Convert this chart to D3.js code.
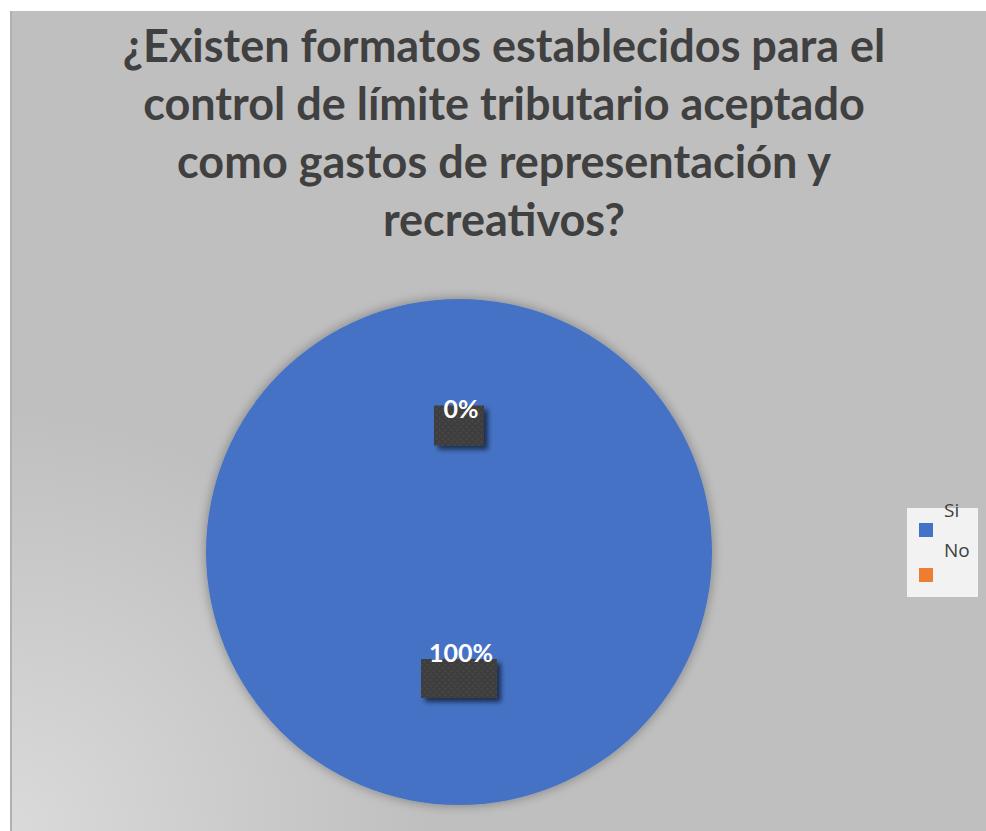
<!DOCTYPE html>
<html><head><meta charset="utf-8">
<script src="https://cdn.jsdelivr.net/npm/d3@7"></script>
<style>html,body{margin:0;padding:0;background:#fff;}svg{display:block;}</style>
</head><body>
<script>
const titleLines = ["¿Existen formatos establecidos para el","control de límite tributario aceptado","como gastos de representación y","recreativos?"];
const categories = ["Si","No"];
const values = [100, 0];
const colors = ["#4472c4","#ed7d31"];

const W = 986, H = 831;
const svg = d3.select("body").append("svg").attr("width", W).attr("height", H);
const defs = svg.append("defs");

const rg = defs.append("radialGradient").attr("id","bg").attr("gradientUnits","userSpaceOnUse")
  .attr("cx",10).attr("cy",831).attr("r",420);
rg.append("stop").attr("offset","0%").attr("stop-color","#dadada");
rg.append("stop").attr("offset","100%").attr("stop-color","#bfbfbf");

const f = defs.append("filter").attr("id","pieShadow").attr("x","-20%").attr("y","-20%").attr("width","140%").attr("height","140%");
f.append("feGaussianBlur").attr("in","SourceAlpha").attr("stdDeviation",6).attr("result","b");
f.append("feOffset").attr("in","b").attr("dx",0).attr("dy",0).attr("result","o");
f.append("feComponentTransfer").attr("in","o").attr("result","s").append("feFuncA").attr("type","linear").attr("slope",0.35);
const fm = f.append("feMerge"); fm.append("feMergeNode").attr("in","s"); fm.append("feMergeNode").attr("in","SourceGraphic");

const f2 = defs.append("filter").attr("id","boxShadow").attr("x","-30%").attr("y","-30%").attr("width","170%").attr("height","170%");
f2.append("feGaussianBlur").attr("in","SourceAlpha").attr("stdDeviation",2.5).attr("result","b");
f2.append("feOffset").attr("in","b").attr("dx",4).attr("dy",4).attr("result","o");
f2.append("feComponentTransfer").attr("in","o").attr("result","s").append("feFuncA").attr("type","linear").attr("slope",0.6);
const fm2 = f2.append("feMerge"); fm2.append("feMergeNode").attr("in","s"); fm2.append("feMergeNode").attr("in","SourceGraphic");

const pat = defs.append("pattern").attr("id","dots").attr("patternUnits","userSpaceOnUse").attr("width",6).attr("height",6);
pat.append("rect").attr("width",6).attr("height",6).attr("fill","#3d3d3d");
pat.append("circle").attr("cx",1.5).attr("cy",1.5).attr("r",1.1).attr("fill","#4a4a4a");
pat.append("circle").attr("cx",4.5).attr("cy",4.5).attr("r",1.1).attr("fill","#4a4a4a");

// chart area
svg.append("rect").attr("x",10).attr("y",11).attr("width",W-10).attr("height",H-11).attr("fill","url(#bg)");
svg.append("line").attr("x1",11).attr("y1",11).attr("x2",11).attr("y2",H).attr("stroke","#b0b0b0").attr("stroke-width",2);

// title
const title = svg.append("text").attr("text-anchor","middle")
  .attr("font-family","Lato, 'Open Sans', sans-serif").attr("font-weight","bold")
  .attr("font-size",45).attr("fill","#404040");
titleLines.forEach((t,i)=>{
  title.append("tspan").attr("x",504).attr("y",62 + i*58).text(t);
});

// pie
const cx = 459, cy = 552, r = 253;
const pie = d3.pie().sort(null).value(d=>d.v);
const data = categories.map((c,i)=>({c, v: values[i], color: colors[i]}));
const arcs = pie(data);
const arc = d3.arc().innerRadius(0).outerRadius(r);
const labelArc = d3.arc().innerRadius(r/2).outerRadius(r/2);
const g = svg.append("g").attr("transform",`translate(${cx},${cy})`);
g.append("g").attr("filter","url(#pieShadow)").selectAll("path").data(arcs).join("path")
  .attr("d",arc).attr("fill",d=>d.data.color);

// labels
const fmt = d3.format(".0%");
const total = d3.sum(values);
const labelSpec = [{w:76,h:39,ty:-17},{w:50,h:40,ty:-8}];
arcs.forEach((a,i)=>{
  const [lx,ly] = labelArc.centroid(a);
  const s = labelSpec[i];
  const lg = g.append("g").attr("transform",`translate(${lx},${ly})`);
  lg.append("rect").attr("x",-s.w/2).attr("y",-s.h/2).attr("width",s.w).attr("height",s.h)
    .attr("fill","url(#dots)").attr("filter","url(#boxShadow)");
  lg.append("text").attr("text-anchor","middle").attr("x",2).attr("y",s.ty)
    .attr("font-family","Lato, 'Open Sans', sans-serif").attr("font-weight","bold")
    .attr("font-size",25).attr("fill","#ffffff").text(fmt(a.data.v/total));
});

// legend
const leg = svg.append("g").attr("transform","translate(907,508)");
leg.append("rect").attr("width",71).attr("height",89).attr("fill","#f2f2f2");
data.forEach((d,i)=>{
  leg.append("rect").attr("x",12).attr("y",15+i*45).attr("width",14).attr("height",14).attr("fill",d.color);
  leg.append("text").attr("x",37).attr("y",9+i*40).attr("font-family","'Open Sans', sans-serif")
    .attr("font-size",19).attr("fill","#404040").text(d.c);
});
</script>
</body></html>
